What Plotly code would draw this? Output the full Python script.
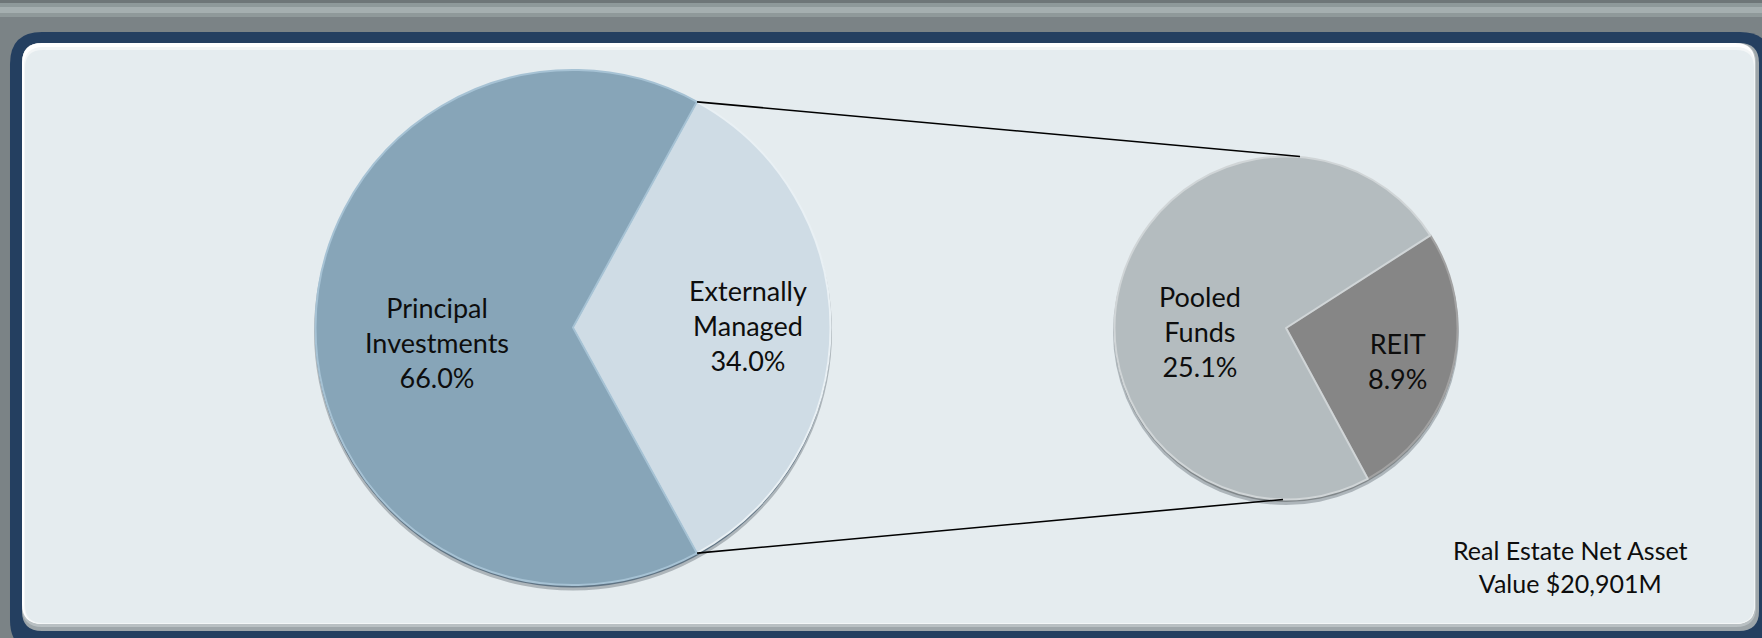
import math
import plotly.graph_objects as go

# ---------------- data ----------------
main_labels = ["Externally Managed", "Principal Investments"]
main_values = [34.0, 66.0]
sub_labels = ["REIT", "Pooled Funds"]
sub_values = [8.9, 25.1]
note_text = "Real Estate Net Asset<br>Value $20,901M"

# ---------------- layout constants (pixels) ----------------
W, H = 1762, 638
FONT = "Lato, 'Open Sans', sans-serif"
L_CX, L_CY, L_R = 573, 327.5, 257.5
R_CX, R_CY, R_R = 1286, 328, 171.5


def px(x):
    return x / W


def py(y):
    return 1 - y / H


def rrect(x0, y0, x1, y1, r):
    """rounded rectangle path in paper coords from pixel coords"""
    pts = [
        ("M", (x0 + r, y0)), ("L", (x1 - r, y0)), ("Q", (x1, y0), (x1, y0 + r)),
        ("L", (x1, y1 - r)), ("Q", (x1, y1), (x1 - r, y1)),
        ("L", (x0 + r, y1)), ("Q", (x0, y1), (x0, y1 - r)),
        ("L", (x0, y0 + r)), ("Q", (x0, y0), (x0 + r, y0)),
    ]
    out = []
    for seg in pts:
        cmd = seg[0]
        coords = " ".join(f"{px(p[0]):.6f},{py(p[1]):.6f}" for p in seg[1:])
        out.append(f"{cmd} {coords}")
    return " ".join(out) + " Z"


shapes = []


def add_rect(x0, y0, x1, y1, color):
    shapes.append(dict(type="rect", xref="paper", yref="paper", x0=px(x0), x1=px(x1),
                       y0=py(y1), y1=py(y0), fillcolor=color, line=dict(width=0), layer="below"))


def add_rrect(x0, y0, x1, y1, r, color):
    shapes.append(dict(type="path", xref="paper", yref="paper", path=rrect(x0, y0, x1, y1, r),
                       fillcolor=color, line=dict(width=0), layer="below"))


def add_circle(cx, cy, r, color):
    shapes.append(dict(type="circle", xref="paper", yref="paper", x0=px(cx - r), x1=px(cx + r),
                       y0=py(cy + r), y1=py(cy - r), fillcolor=color, line=dict(width=0), layer="below"))


# top stripe
add_rect(0, 0, W, 3, "#6e7678")
add_rect(0, 3, W, 7, "#8e999a")
add_rect(0, 7, W, 13, "#a5afb0")
add_rect(0, 13, W, 17, "#8f999a")
# navy frame
add_rrect(10, 32, 1772, 652, 32, "#243f60")
# panel with bevel
add_rrect(22, 43, 1759, 631, 20, "#9ea6aa")
add_rrect(22, 43, 1756, 627, 20, "#b9c0c3")
add_rrect(22, 43, 1755, 624, 20, "#ffffff")
add_rrect(24, 47, 1755, 624, 19, "#f3f6f7")
add_rrect(25, 50, 1754, 623, 18, "#e5ecef")

# pie drop shadows / rims
add_circle(L_CX, L_CY + 4, L_R + 1.5, "rgba(70,80,90,0.35)")
add_circle(L_CX, L_CY + 2, L_R + 0.5, "#5f7383")
add_circle(R_CX, R_CY + 4, R_R + 1.5, "rgba(70,80,90,0.35)")
add_circle(R_CX, R_CY + 2, R_R + 0.5, "#80878a")

# connector lines (from split points of main pie to top/bottom of secondary pie)
ext_angle = main_values[0] / sum(main_values) * 360
main_rot = 90 - ext_angle / 2
a_top = math.radians(main_rot)
a_bot = math.radians(main_rot + ext_angle)
p_top = (L_CX + L_R * math.sin(a_top), L_CY - L_R * math.cos(a_top))
p_bot = (L_CX + L_R * math.sin(a_bot), L_CY - L_R * math.cos(a_bot))
q_top = (R_CX + 14, R_CY - R_R)
q_bot = (R_CX - 3, R_CY + R_R)
for a, b in [(p_top, q_top), (p_bot, q_bot)]:
    shapes.append(dict(type="line", xref="paper", yref="paper", x0=px(a[0]), y0=py(a[1]),
                       x1=px(b[0]), y1=py(b[1]), line=dict(color="#000000", width=1.6), layer="above"))

fig = go.Figure()
fig.add_trace(go.Pie(
    labels=main_labels, values=main_values, sort=False, direction="clockwise",
    rotation=main_rot, textinfo="none", hoverinfo="label+percent",
    marker=dict(colors=["#cfdce5", "#87a5b8"], line=dict(color=["#e9f0f4", "#a6c2d4"], width=2)),
    domain=dict(x=[px(L_CX - L_R), px(L_CX + L_R)], y=[py(L_CY + L_R), py(L_CY - L_R)]),
    showlegend=False,
))
sub_rot = 57.3
fig.add_trace(go.Pie(
    labels=sub_labels, values=sub_values, sort=False, direction="clockwise",
    rotation=sub_rot, textinfo="none", hoverinfo="label+percent",
    marker=dict(colors=["#868686", "#b4bcbf"], line=dict(color=["#a2a2a2", "#d0d5d7"], width=2)),
    domain=dict(x=[px(R_CX - R_R), px(R_CX + R_R)], y=[py(R_CY + R_R), py(R_CY - R_R)]),
    showlegend=False,
))


def label_text(lbl, v):
    return lbl.replace(" ", "<br>") + "<br>" + f"{v:.1f}%"


annos = []
label_pos = {
    "Principal Investments": (437, 342),
    "Externally Managed": (748, 325),
    "Pooled Funds": (1200, 331),
    "REIT": (1397, 361),
}
for lbl, v in list(zip(main_labels, main_values)) + list(zip(sub_labels, sub_values)):
    x, y = label_pos[lbl]
    annos.append(dict(text=label_text(lbl, v), x=px(x), y=py(y), xref="paper", yref="paper",
                      showarrow=False, xanchor="center", yanchor="middle", align="center",
                      font=dict(family=FONT, size=27, color="#0d0d0d")))
annos.append(dict(text=note_text, x=px(1570), y=py(566), xref="paper", yref="paper",
                  showarrow=False, xanchor="center", yanchor="middle", align="center",
                  font=dict(family=FONT, size=25, color="#0d0d0d")))

fig.update_layout(
    width=W, height=H, autosize=False,
    margin=dict(l=0, r=0, t=0, b=0),
    paper_bgcolor="#7b8386", plot_bgcolor="#7b8386",
    shapes=shapes, annotations=annos,
)
fig.write_html("out.html", config={"displayModeBar": False},
               post_script="document.body.style.margin='0';document.body.style.overflow='hidden';")
